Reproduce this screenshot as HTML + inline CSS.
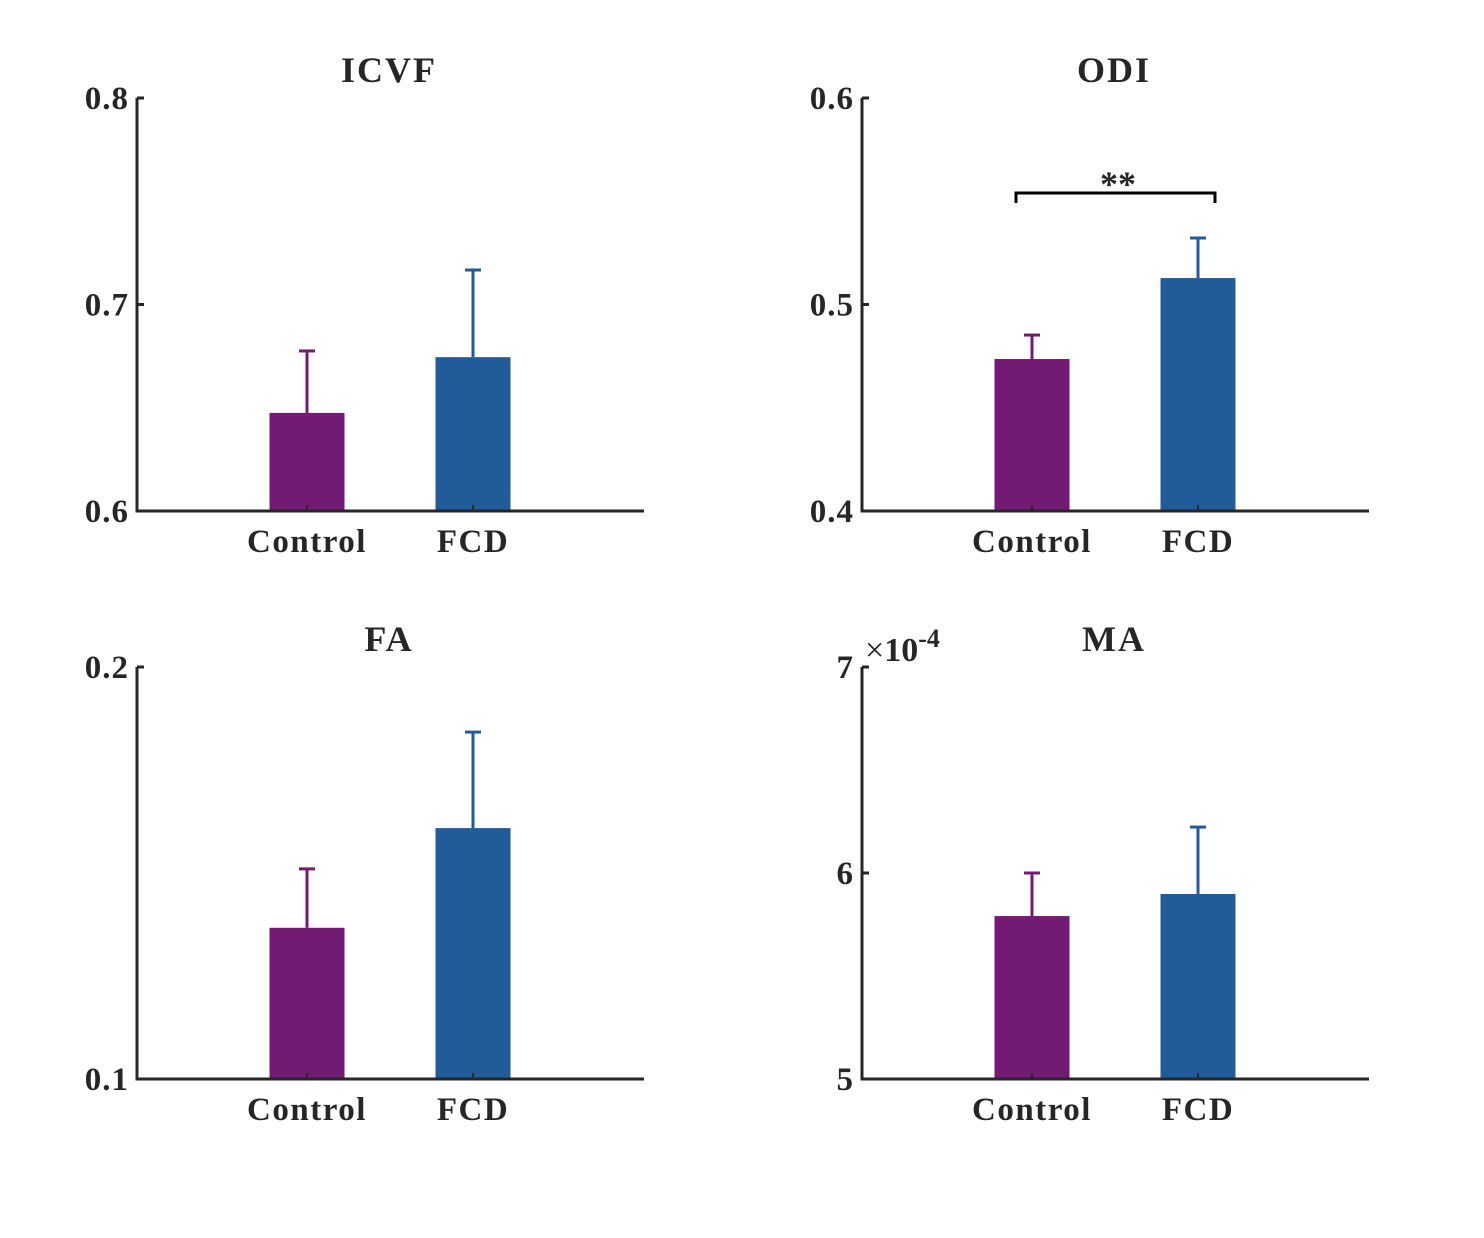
<!DOCTYPE html>
<html><head><meta charset="utf-8"><style>
body{margin:0;background:#fff}
svg text{font-family:"Liberation Serif",serif;font-weight:bold;fill:#262626}
</style></head><body>
<svg id="chart" width="1484" height="1233" xmlns="http://www.w3.org/2000/svg"></svg>
<script>
const categories = ["Control", "FCD"];
const panelTitles = ["ICVF", "ODI", "FA", "MA"];
const icvfMeans = [0.6475, 0.6745];
const icvfErrors = [0.0300, 0.0422];
const odiMeans = [0.4736, 0.5128];
const odiErrors = [0.0116, 0.0194];
const faMeans = [0.1367, 0.1609];
const faErrors = [0.0143, 0.0233];
const maMeans = [5.791, 5.898];
const maErrors = [0.209, 0.325];
const icvfTicks = [0.6, 0.7, 0.8];
const odiTicks = [0.4, 0.5, 0.6];
const faTicks = [0.1, 0.2];
const maTicks = [5, 6, 7];
const icvfTickLabels = ["0.6","0.7","0.8"];
const odiTickLabels = ["0.4","0.5","0.6"];
const faTickLabels = ["0.1","0.2"];
const maTickLabels = ["5","6","7"];

const svg = document.getElementById('chart');
const NS = 'http://www.w3.org/2000/svg';
const colors = ['#731a73', '#225b99'];
function mk(tag, attrs, parent){const e=document.createElementNS(NS,tag);for(const k in attrs)e.setAttribute(k,attrs[k]);(parent||svg).appendChild(e);return e;}

const panels = [
 {x0:137,x1:644,yb:511,yt:98,min:0.6,max:0.8,means:icvfMeans,errs:icvfErrors,ticks:icvfTicks,labels:icvfTickLabels,title:panelTitles[0],key:'icvf',tx:389},
 {x0:862,x1:1369,yb:511,yt:98,min:0.4,max:0.6,means:odiMeans,errs:odiErrors,ticks:odiTicks,labels:odiTickLabels,title:panelTitles[1],key:'odi',sig:true,tx:1114},
 {x0:137,x1:644,yb:1079,yt:667,min:0.1,max:0.2,means:faMeans,errs:faErrors,ticks:faTicks,labels:faTickLabels,title:panelTitles[2],key:'fa',tx:389},
 {x0:862,x1:1369,yb:1079,yt:667,min:5,max:7,means:maMeans,errs:maErrors,ticks:maTicks,labels:maTickLabels,title:panelTitles[3],key:'ma',exp:true,tx:1114}
];
panels.forEach(p=>{
  const g = mk('g',{});
  
  
  const y = v => p.yb - (v-p.min)/(p.max-p.min)*(p.yb-p.yt);
  const x = i => p.x0 + 170 + i*166;
  p.means.forEach((m,i)=>{
    const cx=x(i), top=y(m+p.errs[i]);
    const el=mk('line',{x1:cx,x2:cx,y1:y(m),y2:top,stroke:colors[i],'stroke-width':3},g);
    
    
    const cap=mk('line',{x1:cx-8,x2:cx+8,y1:top,y2:top,stroke:colors[i],'stroke-width':3},g);
    
    
    const r=mk('rect',{x:cx-37.5,y:y(m),width:75,height:p.yb-y(m),fill:colors[i]},g);
    
    
    mk('line',{x1:cx,x2:cx,y1:p.yb,y2:p.yb-6,stroke:'#262626','stroke-width':2},g);
    const t=mk('text',{x:cx,y:p.yb+41,'text-anchor':'middle','font-size':33,'letter-spacing':1.5},g);
    t.textContent=categories[i];
    
    
  });
  const ax=mk('path',{d:`M${p.x0},${p.yt} V${p.yb} H${p.x1}`,fill:'none',stroke:'#262626','stroke-width':3},g);
  
  
  p.ticks.forEach((v,i)=>{
    mk('line',{x1:p.x0,x2:p.x0+7,y1:y(v),y2:y(v),stroke:'#262626','stroke-width':3},g);
    const t=mk('text',{x:p.x0-8,y:y(v)+11,'text-anchor':'end','font-size':33,'letter-spacing':1},g);
    t.textContent=p.labels[i];
    
    
  });
  const tt=mk('text',{x:p.tx,y:p.yt-16,'text-anchor':'middle','font-size':36,'letter-spacing':2,fill:'#000'},g);
  tt.textContent=p.title;
  
  
  if(p.exp){
    const e=mk('text',{x:p.x0+3,y:p.yt-6,'font-size':34},g);
    e.innerHTML='<tspan font-weight="normal">×</tspan>10<tspan dy="-14" font-size="26">-4</tspan>';
    
    
  }
  if(p.sig){
    const b=mk('path',{d:'M1016,203 V193 H1215 V203',fill:'none',stroke:'#000','stroke-width':3},g);
    
    
    const s=mk('text',{x:1118,y:196,'text-anchor':'middle','font-size':36,fill:'#000'},g);
    s.textContent='**';
    
    
  }
});
</script>
</body></html>
